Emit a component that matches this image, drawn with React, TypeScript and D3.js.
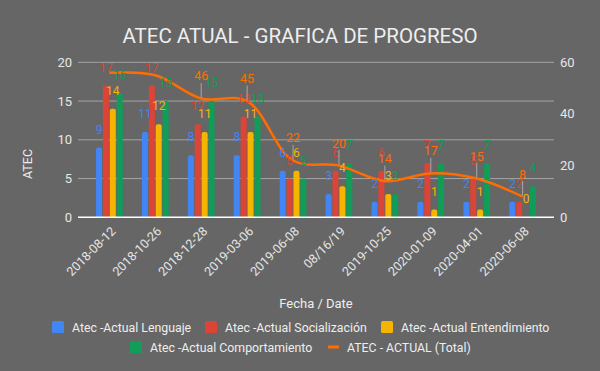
import React from "react";
import * as d3 from "d3";

const categories = ["2018-08-12", "2018-10-26", "2018-12-28", "2019-03-06", "2019-06-08", "08/16/19", "2019-10-25", "2020-01-09", "2020-04-01", "2020-06-08"];
const lenguaje = [9, 11, 8, 8, 6, 3, 2, 2, 2, 2];
const socializacion = [17, 17, 12, 13, 5, 6, 6, 7, 5, 2];
const entendimiento = [14, 12, 11, 11, 6, 4, 3, 1, 1, 0];
const comportamiento = [16, 15, 15, 13, 5, 7, 3, 7, 7, 4];
const total = [56, 55, 46, 45, 22, 20, 14, 17, 15, 8];
const totalLabelShown = [false, false, true, true, true, true, true, true, true, true];
const leftTicks = [0, 5, 10, 15, 20];
const rightTicks = [0, 20, 40, 60];

const seriesNames = ["Atec -Actual Lenguaje", "Atec -Actual Socialización", "Atec -Actual Entendimiento", "Atec -Actual Comportamiento"];
const lineName = "ATEC - ACTUAL (Total)";
const colors = ["#4285f4", "#db4437", "#f4b400", "#0f9d58"];
const lineColor = "#ff6d00";

const W = 600, H = 371;
const FONT = "Roboto, 'Noto Sans', sans-serif";

export default function App() {
  const series = [lenguaje, socializacion, entendimiento, comportamiento];
  const plotL = 78, plotR = 554, top = 62.3, bottom = 217.3;
  const x = d3.scaleBand().domain(categories).range([86.4, 545.6]).paddingInner(0).paddingOuter(0);
  const yL = d3.scaleLinear().domain([0, 20]).range([bottom, top]);
  const yR = d3.scaleLinear().domain([0, 60]).range([bottom, top]);
  const barW = 6;
  const barStep = 6.9;
  const groupW = barStep * 3 + barW;
  const cx = (c: string) => (x(c) as number) + x.bandwidth() / 2;

  const line = d3.line<number>()
    .x((_, i) => cx(categories[i]))
    .y((d) => yR(d))
    .curve(d3.curveCatmullRom.alpha(0.5));

  const barPath = (x0: number, y0: number, w: number, h: number) => {
    const r = Math.min(2, h);
    if (h <= 0) return "";
    return `M${x0},${y0 + h}V${y0 + r}Q${x0},${y0} ${x0 + r},${y0}H${x0 + w - r}Q${x0 + w},${y0} ${x0 + w},${y0 + r}V${y0 + h}Z`;
  };

  const legendRow1 = [
    { x: 52, tx: 72, i: 0 },
    { x: 205, tx: 225, i: 1 },
    { x: 381, tx: 401, i: 2 },
  ];
  const r1 = 327, r2 = 347;
  const LFS = 12.3;

  return (
    <svg width={W} height={H} style={{ display: "block", position: "absolute", left: 0, top: 0 }} fontFamily={FONT}>
      <rect x={0} y={0} width={W} height={H} fill="#666666" />
      <text x={300} y={42.5} textAnchor="middle" fontSize={20.5} fill="#eeeeee">ATEC ATUAL - GRAFICA DE PROGRESO</text>

      {leftTicks.map((t) => (
        <g key={"l" + t}>
          {t !== 0 && <line x1={plotL} x2={plotR} y1={yL(t)} y2={yL(t)} stroke="#a3a3a3" strokeWidth={1} />}
          <text x={72} y={yL(t) + 4.5} textAnchor="end" fontSize={13} fill="#e6e6e6">{t}</text>
        </g>
      ))}
      {rightTicks.map((t) => (
        <text key={"r" + t} x={560} y={yR(t) + 4.5} textAnchor="start" fontSize={13} fill="#e6e6e6">{t}</text>
      ))}
      <text transform={`translate(32,164) rotate(-90)`} textAnchor="middle" fontSize={12.5} fill="#eeeeee">ATEC</text>

      {categories.map((c, ci) => {
        const gx = cx(c) - groupW / 2;
        return (
          <g key={c}>
            {series.map((s, si) => {
              const v = s[ci];
              const bx = gx + si * barStep;
              const by = yL(v);
              return <path key={si} d={barPath(bx, by, barW, bottom - by)} fill={colors[si]} />;
            })}
          </g>
        );
      })}

      <line x1={plotL} x2={plotR} y1={bottom} y2={bottom} stroke="#ffffff" strokeWidth={1.5} />

      <path d={line(total) || ""} fill="none" stroke={lineColor} strokeWidth={2.5} />

      {categories.map((c, ci) => {
        const gx = cx(c) - groupW / 2;
        return (
          <g key={"lab" + c}>
            {series.map((s, si) => {
              const v = s[ci];
              const bx = gx + si * barStep + barW / 2;
              return (
                <text key={si} x={bx} y={yL(v) - 14} textAnchor="middle" fontSize={12} fill={colors[si]}>{v}</text>
              );
            })}
          </g>
        );
      })}

      {categories.map((c, ci) => totalLabelShown[ci] ? (
        <g key={"t" + c}>
          <line x1={cx(c)} x2={cx(c)} y1={yR(total[ci]) - 1} y2={yR(total[ci]) - 15.5} stroke="#a8a8a8" strokeWidth={1} />
          <text x={cx(c)} y={yR(total[ci]) - 18} textAnchor="middle" fontSize={12.5} fill={lineColor}>{total[ci]}</text>
        </g>
      ) : null)}

      {categories.map((c) => (
        <text key={"x" + c} transform={`translate(${cx(c) + 7},${232}) rotate(-45)`} textAnchor="end" fontSize={12.5} fill="#e6e6e6">{c}</text>
      ))}
      <text x={316} y={308} textAnchor="middle" fontSize={13} fill="#eeeeee">Fecha / Date</text>

      {legendRow1.map((l) => (
        <g key={"lg" + l.i}>
          <rect x={l.x} y={r1 - 6} width={12} height={12} rx={1.5} fill={colors[l.i]} />
          <text x={l.tx} y={r1 + 4.5} fontSize={LFS} fill="#eeeeee">{seriesNames[l.i]}</text>
        </g>
      ))}
      <rect x={130} y={r2 - 6} width={12} height={12} rx={1.5} fill={colors[3]} />
      <text x={150} y={r2 + 4.5} fontSize={LFS} fill="#eeeeee">{seriesNames[3]}</text>
      <rect x={328} y={r2 - 1.5} width={11} height={3} fill={lineColor} />
      <text x={347} y={r2 + 4.5} fontSize={LFS} fill="#eeeeee">{lineName}</text>
    </svg>
  );
}
